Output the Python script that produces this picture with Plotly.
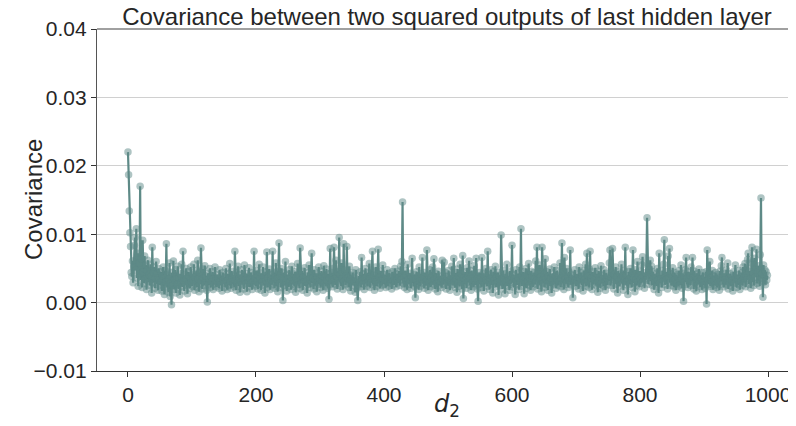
import plotly.graph_objects as go

# Covariance values, in units of 1e-4 (d2 = 0..999), 50 per row
cov_e4_000 = [220,187,134,102,82,44,38,61,29,52,84,95,47,108,36,72,24,58,41,170,33,64,22,91,45,28,68,35,55,19,47,62,30,41,25,56,38,14,81,29,44,52,21,36,60,27,43,18,50,33]
cov_e4_050 = [26,45,31,17,39,52,24,12,47,30,86,22,40,15,35,58,9,28,-3,44,25,61,19,33,48,14,38,27,53,20,36,11,42,29,56,23,75,31,17,40,26,50,34,13,45,28,38,21,52,30]
cov_e4_100 = [24,41,33,56,18,37,28,47,22,62,35,16,44,27,80,31,20,49,36,25,54,29,39,18,1,43,26,35,50,22,38,30,45,19,34,27,52,32,23,41,29,36,21,48,31,26,39,17,44,33]
cov_e4_150 = [28,37,22,50,31,19,42,34,25,57,30,21,46,35,27,40,23,75,32,18,44,29,53,24,36,15,41,30,48,26,37,20,55,33,27,42,16,38,29,51,23,35,44,28,19,40,31,75,26,36]
cov_e4_200 = [24,47,31,20,39,56,27,35,18,43,30,52,25,38,14,45,32,74,22,36,28,49,19,41,33,26,75,30,44,21,37,58,24,35,16,46,87,28,39,22,50,31,3,36,44,25,60,29,17,41]
cov_e4_250 = [34,23,48,30,38,19,53,27,42,32,24,45,15,36,29,57,26,40,21,80,33,28,46,18,37,30,51,24,39,31,14,44,27,55,35,22,41,72,29,36,20,48,33,25,43,16,38,30,52,27]
cov_e4_300 = [35,22,46,31,39,18,54,28,37,24,49,33,21,42,5,36,79,27,44,30,23,50,81,34,26,62,38,20,45,32,95,29,41,24,58,35,19,86,31,47,26,39,82,28,36,22,53,33,17,40]
cov_e4_350 = [29,44,25,37,31,15,48,34,21,3,26,39,30,45,23,66,32,27,42,19,36,50,28,38,24,44,31,57,22,35,29,47,75,26,40,18,33,52,30,24,43,78,28,37,21,46,32,25,55,34]
cov_e4_400 = [27,41,33,22,38,48,30,24,43,35,28,37,20,45,32,39,26,50,31,23,42,34,29,46,37,25,53,33,60,147,28,36,22,47,31,40,19,56,34,27,43,30,21,38,65,29,35,24,41,7]
cov_e4_450 = [33,45,26,38,19,52,31,24,42,35,66,28,37,21,44,30,25,77,33,18,40,29,48,23,36,31,52,26,64,34,20,43,28,37,16,46,32,25,39,30,22,62,35,27,59,31,44,20,38,29]
cov_e4_500 = [25,47,33,18,40,29,53,26,37,65,30,22,44,34,15,49,28,38,24,56,31,42,20,69,6,36,27,45,33,21,51,30,39,61,25,35,18,47,29,41,23,54,32,26,65,34,20,2,38,44]
cov_e4_550 = [27,36,22,66,31,43,17,39,28,50,33,24,75,30,41,19,35,48,26,38,14,45,32,27,53,23,37,29,44,11,40,31,25,99,34,20,47,28,36,13,42,30,56,24,39,33,18,46,27,37]
cov_e4_600 = [84,29,41,22,35,12,48,31,26,43,36,19,52,30,108,24,39,33,45,13,37,28,50,21,40,32,57,25,36,18,46,29,38,23,44,34,27,61,31,81,20,42,30,55,25,37,16,81,33,28]
cov_e4_650 = [41,22,64,35,27,45,18,38,30,49,24,36,14,43,32,26,52,29,39,21,47,33,25,40,31,58,23,36,87,28,44,19,66,34,27,50,30,38,22,45,32,77,26,41,35,7,39,29,48,33]
cov_e4_700 = [24,42,31,37,20,52,28,35,44,26,39,17,47,33,29,56,24,72,31,40,22,49,75,30,36,19,45,27,38,33,51,25,42,29,15,46,32,37,21,54,28,40,34,24,48,30,18,43,36,26]
cov_e4_750 = [39,31,58,77,25,37,44,79,29,20,41,33,52,27,38,14,46,31,24,43,35,56,28,39,18,47,32,81,26,40,30,12,45,34,27,50,37,22,43,77,29,36,16,48,33,25,60,31,40,23]
cov_e4_800 = [46,34,28,55,67,30,39,21,44,33,58,124,36,27,48,40,62,31,53,25,45,35,19,42,30,37,24,50,33,14,72,28,41,35,22,47,31,56,92,26,39,33,45,20,68,36,79,29,42,25]
cov_e4_850 = [37,51,30,23,44,34,18,41,28,38,24,47,32,26,55,35,21,43,2,39,30,48,66,27,36,22,45,33,40,25,52,31,66,37,20,46,29,38,17,43,34,27,49,31,23,40,35,19,44,30]
cov_e4_900 = [26,38,21,45,-2,77,33,41,27,60,24,36,30,47,19,39,32,25,44,35,22,41,29,37,18,46,31,54,66,27,38,23,43,33,26,48,30,58,20,36,29,42,24,39,32,17,45,28,37,55]
cov_e4_950 = [30,22,41,34,26,47,19,38,31,44,25,52,36,29,57,23,40,33,63,72,27,46,35,21,58,81,30,42,25,65,37,48,78,28,44,33,54,24,70,153,35,42,8,55,30,48,26,45,33,40]

cov_e4 = (cov_e4_000 + cov_e4_050 + cov_e4_100 + cov_e4_150 + cov_e4_200 +
          cov_e4_250 + cov_e4_300 + cov_e4_350 + cov_e4_400 + cov_e4_450 +
          cov_e4_500 + cov_e4_550 + cov_e4_600 + cov_e4_650 + cov_e4_700 +
          cov_e4_750 + cov_e4_800 + cov_e4_850 + cov_e4_900 + cov_e4_950)
d2 = list(range(len(cov_e4)))
covariance = [v / 10000 for v in cov_e4]

y_ticks = [-0.01, 0.00, 0.01, 0.02, 0.03, 0.04]
x_ticks = [0, 200, 400, 600, 800, 1000]

LINE = "#5e8a87"
FONT = "Liberation Sans, Arial, sans-serif"

fig = go.Figure()
fig.add_trace(go.Scatter(
    x=d2, y=covariance, mode="lines+markers",
    line=dict(color=LINE, width=2.2),
    marker=dict(color="rgba(94,138,135,0.5)", size=7.5, line=dict(width=0)),
    showlegend=False,
))

# page has an 8px body margin; compensate so the plot lands where the reference has it
L, R, T, B = 89, 0, 21, 63
PW, PH = 796 - L - R, 342
fig.update_layout(
    width=796, height=426,
    margin=dict(l=L, r=R, t=T, b=B, pad=0),
    paper_bgcolor="white", plot_bgcolor="white",
    font=dict(family=FONT, color="#262626", size=21),
    title=dict(text="Covariance between two squared outputs of last hidden layer",
               x=(447 - 97) / PW, xref="paper", xanchor="center",
               y=1, yref="paper", yanchor="bottom", pad=dict(b=4),
               font=dict(family=FONT, size=24, color="#262626")),
    xaxis=dict(range=[-48.4, 1056.2], tickvals=x_ticks, ticks="outside", ticklen=5,
               tickcolor="#333333", showgrid=False, zeroline=False,
               showline=True, linecolor="#333333", linewidth=1.2,
               tickfont=dict(size=21, color="#262626")),
    yaxis=dict(range=[-0.01, 0.04], tickvals=y_ticks, tickformat=".2f",
               ticks="outside", ticklen=5, tickcolor="#333333",
               showgrid=True, gridcolor="#d0d0d0", gridwidth=1, zeroline=False,
               showline=True, linecolor="#555555", linewidth=1.2,
               tickfont=dict(size=21, color="#262626")),
    annotations=[
        dict(text="Covariance", xref="paper", yref="paper", x=(33 - 97) / PW, y=0.5,
             xanchor="center", yanchor="middle", textangle=-90, showarrow=False,
             font=dict(family=FONT, size=24, color="#262626")),
        dict(text="<i>d</i><sub>2</sub>", xref="paper", yref="paper",
             x=(447 - 97) / PW, y=-(405 - 371) / PH,
             xanchor="center", yanchor="middle", showarrow=False,
             font=dict(family="DejaVu Sans", size=24, color="#262626")),
    ],
    shapes=[dict(type="line", xref="paper", yref="paper", x0=0, x1=1, y0=1, y1=1,
                 line=dict(color="#808080", width=1.5))],
)

fig.write_html("out.html")
